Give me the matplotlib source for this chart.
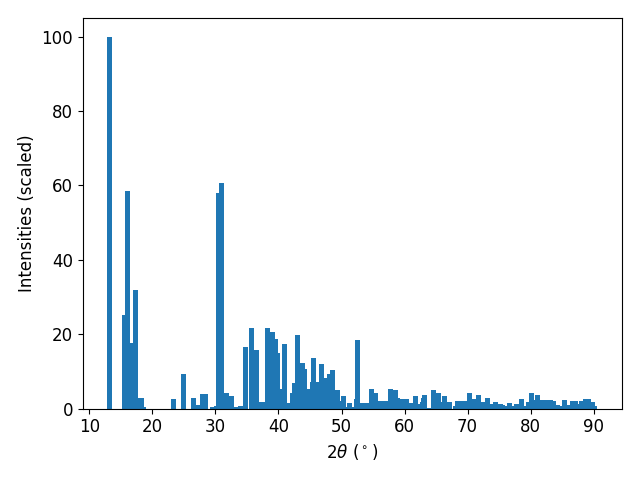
import matplotlib
matplotlib.use("Agg")
import matplotlib.pyplot as plt

# peak positions (2theta, degrees) and scaled intensities
two_theta = [
    13.26, 15.64, 16.12, 16.92, 17.39, 18.19, 18.51,
    23.28, 24.86, 26.45, 27.25, 27.89, 28.36, 29.48, 30.11, 30.43, 30.91,
    31.70, 32.02, 32.50, 33.29, 33.93, 34.72, 35.68, 36.47, 37.11, 37.58,
    38.22, 39.01, 39.49, 39.81, 40.60, 40.92, 41.72, 42.19, 42.51, 42.99,
    43.78, 44.10, 44.74, 45.37, 45.53, 46.33, 46.80, 47.60, 48.08, 48.55,
    49.35, 49.51, 49.83, 50.14, 50.30, 51.10, 51.26, 52.05, 52.37, 52.53,
    53.32, 53.48, 53.96, 54.44, 54.75, 55.39, 56.03, 56.18, 56.66, 56.98,
    57.14, 57.77, 58.57, 58.89, 59.68, 60.32, 61.11, 61.75, 62.54, 62.86,
    63.02, 63.18, 63.98, 64.61, 65.41, 65.56, 66.36, 67.15, 68.11, 68.43,
    69.06, 69.70, 70.33, 71.13, 71.61, 71.76, 72.56, 73.20, 73.99, 74.47,
    75.26, 75.58, 75.90, 76.38, 76.69, 77.49, 77.81, 78.60, 79.40, 79.71,
    80.19, 80.99, 81.14, 81.94, 82.10, 82.73, 83.21, 83.69, 84.32, 84.64,
    84.96, 85.44, 86.23, 86.71, 87.19, 87.50, 88.14, 88.78, 89.25, 89.89,
    90.21,
]
intensities = [
    100.0, 25.3, 58.4, 17.7, 32.0, 3.0, 0.4,
    2.5, 9.2, 3.0, 1.1, 3.9, 3.9, 0.4, 0.7, 58.0, 60.6,
    4.3, 1.1, 3.5, 0.5, 0.6, 16.6, 21.7, 15.8, 1.9, 1.9,
    21.7, 20.7, 18.8, 15.0, 5.4, 17.4, 1.6, 4.3, 6.8, 19.8,
    12.2, 10.6, 5.2, 7.3, 13.6, 7.1, 12.0, 8.2, 9.2, 10.3,
    4.9, 2.2, 1.1, 1.6, 3.5, 0.5, 1.6, 0.5, 2.7, 18.5,
    1.6, 0.5, 1.6, 1.6, 5.2, 4.3, 0.5, 2.2, 2.2, 0.5,
    2.2, 5.2, 4.9, 3.0, 2.5, 2.7, 1.6, 3.3, 1.4, 1.9,
    3.0, 3.8, 0.3, 4.9, 4.1, 1.9, 3.5, 1.9, 0.8, 2.2,
    2.2, 2.2, 4.3, 2.7, 0.3, 3.8, 1.9, 3.0, 1.4, 1.9,
    1.4, 1.1, 0.8, 0.3, 1.6, 0.8, 1.4, 2.7, 0.8, 1.9,
    4.1, 2.4, 3.8, 2.4, 1.4, 2.4, 2.4, 2.2, 1.1, 0.8,
    0.3, 2.4, 1.1, 2.2, 2.2, 1.4, 2.2, 2.7, 2.7, 1.9,
    0.8,
]

plt.rcParams["font.size"] = 12

fig, ax = plt.subplots(figsize=(6.4, 4.8), dpi=100)
ax.bar(two_theta, intensities, width=0.8, color="C0")

ax.set_xlabel(r"$2\theta$ ($^\circ$)")
ax.set_ylabel("Intensities (scaled)")

plt.tight_layout()
plt.savefig("out.png")
